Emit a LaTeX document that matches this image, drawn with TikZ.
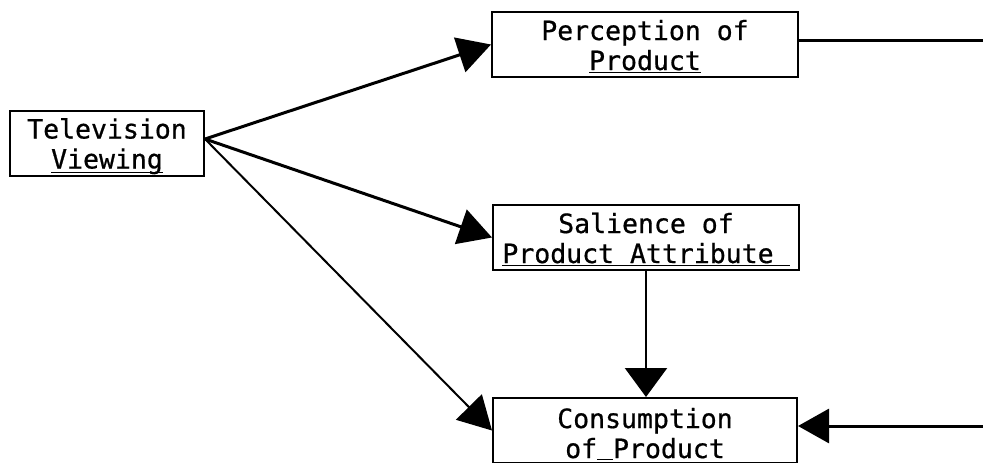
\documentclass[tikz,border=0pt]{standalone}
\usepackage{fontspec}
\usetikzlibrary{arrows.meta}
\newfontfamily\typew[FakeBold=0.7]{DejaVu Sans Mono}
\newcommand{\mylines}[4]{\rule{0pt}{#1pt}#3\\\smash{#4}\rule[-#2pt]{0pt}{#2pt}}
\newcommand{\ulnd}[1]{\underline{\raisebox{0pt}[\height][2.5pt]{#1}}}
\begin{document}
\begin{tikzpicture}[x=1pt,y=-1pt,
  boxst/.style={draw, line width=2pt, inner xsep=0pt, inner ysep=0pt,
    align=center, font=\typew\fontsize{26.5}{30}\selectfont},
  conn/.style={line width=3pt, -{Triangle[length=33pt,width=36pt]}},
  thinconn/.style={line width=2pt, -{Triangle[length=33pt,width=36pt]}},
  plain/.style={line width=3pt}]
\useasboundingbox (0,0) rectangle (983,463);
\node[boxst, minimum width=194pt] (tv) at (107,143) {\mylines{28}{7}{Television}{\ulnd{Viewing}}};
\node[boxst, minimum width=306pt] (per) at (645,44.5) {\mylines{28}{7}{Perception of}{\underline{Product}}};
\node[boxst, minimum width=306pt] (sal) at (646,237.5) {\mylines{28}{7}{Salience of}{\underline{Product Attribute\ }}};
\node[boxst, minimum width=304pt] (con) at (645,430.5) {\mylines{30}{5}{Consumption}{of\underline{\ }Product}};
\coordinate (tvout) at (205,139);
\coordinate (rtop) at (983,40);
\coordinate (rbot) at (983,426);
\draw[conn] (tvout) -- (per.west);
\draw[conn] (tvout) -- (sal.west);
\draw[thinconn] (tvout) -- (con.west);
\draw[line width=2.4pt, -{Triangle[length=29pt,width=42pt]}] (sal.south) -- (sal.south |- con.north);
\draw[plain] (per.east |- rtop) -- (rtop);
\draw[conn, -{Triangle[length=31pt,width=34pt]}] (rbot) -- (con.east |- rbot);
\end{tikzpicture}
\end{document}
